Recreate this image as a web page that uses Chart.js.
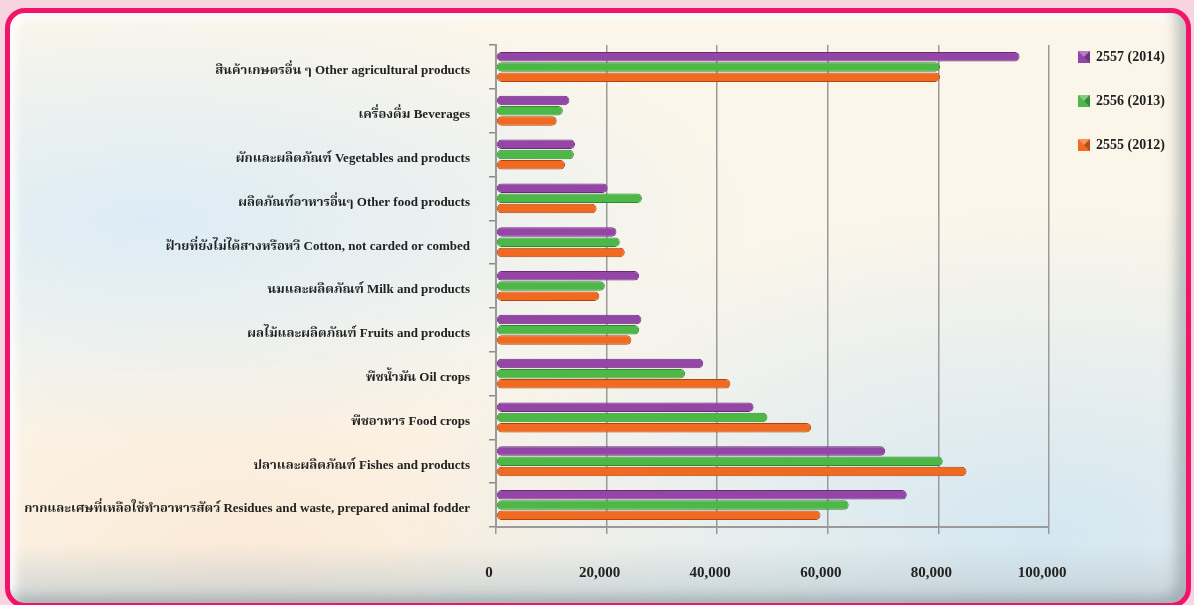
<!DOCTYPE html>
<html>
<head>
<meta charset="utf-8">
<script src="https://cdn.jsdelivr.net/npm/chart.js@4.4.1/dist/chart.umd.min.js"></script>
<style>
  html, body { margin: 0; padding: 0; }
  body { width: 1194px; height: 605px; background: #f8d3e0; position: relative; overflow: hidden; }
  .frame {
    position: absolute; left: 5px; top: 8px; width: 1186px; height: 600px;
    box-sizing: border-box; border: 5px solid #f2146b; border-radius: 20px;
    background:
      linear-gradient(to bottom, rgba(255,255,255,0) 90%, rgba(185,200,206,0.7) 100%),
      radial-gradient(ellipse at 12% 35%, rgba(218,235,246,0.95), rgba(218,235,246,0) 42%),
      radial-gradient(ellipse at 88% 88%, rgba(210,230,242,0.95), rgba(210,230,242,0) 45%),
      radial-gradient(ellipse at 20% 95%, rgba(250,232,212,0.9), rgba(250,232,212,0) 35%),
      #fcf6ea;
    box-shadow: inset -10px -6px 12px rgba(120,132,138,0.45), inset 6px 6px 10px rgba(255,255,255,0.9);
  }
  .chart-container { position: absolute; left: 0; top: 0; width: 1194px; height: 605px; }
</style>
</head>
<body>
<div class="frame"></div>
<div class="chart-container"><canvas id="graficoProdutos" width="1194" height="605"></canvas></div>
<script>
const categorias = [
  'สินค้าเกษตรอื่น ๆ Other agricultural products',
  'เครื่องดื่ม Beverages',
  'ผักและผลิตภัณฑ์ Vegetables and products',
  'ผลิตภัณฑ์อาหารอื่นๆ Other food products',
  'ฝ้ายที่ยังไม่ได้สางหรือหวี Cotton, not carded or combed',
  'นมและผลิตภัณฑ์ Milk and products',
  'ผลไม้และผลิตภัณฑ์ Fruits and products',
  'พืชน้ำมัน Oil crops',
  'พืชอาหาร Food crops',
  'ปลาและผลิตภัณฑ์ Fishes and products',
  'กากและเศษที่เหลือใช้ทำอาหารสัตว์ Residues and waste, prepared animal fodder'
];
const series = ['2557 (2014)', '2556 (2013)', '2555 (2012)'];
const valores2557 = [94700, 13300, 14300, 20200, 21800, 25900, 26300, 37500, 46600, 70400, 74300];
const valores2556 = [80300, 12100, 14100, 26400, 22400, 19700, 25900, 34200, 49100, 80800, 63800];
const valores2555 = [80300, 11000, 12500, 18200, 23300, 18700, 24500, 42400, 57000, 85100, 58700];
const escalaMax = 100000;
const escalaPasso = 20000;

const cores = ['#9446a6', '#4db848', '#f06a21'];
const bordas = ['#6b2a7a', '#2f8a2e', '#b0440c'];
const fonte = "'Liberation Serif', 'Noto Serif Thai', 'Noto Sans Thai', 'DejaVu Serif', serif";

// legend drawn by hand so it sits where the original one is
const legendaLateral = {
  id: 'legendaLateral',
  afterDraw(chart) {
    const c = chart.ctx;
    c.save();
    chart.data.datasets.forEach((ds, i) => {
      const x = 1078, y = 51 + i * 44;
      c.fillStyle = ds.backgroundColor;
      c.fillRect(x, y, 12, 12);
      c.fillStyle = 'rgba(255,255,255,0.3)';
      c.beginPath(); c.moveTo(x, y); c.lineTo(x + 12, y); c.lineTo(x + 6, y + 6); c.closePath(); c.fill();
      c.fillStyle = 'rgba(0,0,0,0.25)';
      c.beginPath(); c.moveTo(x + 12, y); c.lineTo(x + 12, y + 12); c.lineTo(x + 6, y + 6); c.closePath(); c.fill();
      c.fillStyle = '#222';
      c.font = 'bold 14px ' + fonte;
      c.textBaseline = 'middle';
      c.textAlign = 'left';
      c.fillText(ds.label, x + 18, y + 6);
    });
    c.restore();
  }
};

document.addEventListener('DOMContentLoaded', function() {
  const ctx = document.getElementById('graficoProdutos').getContext('2d');
  const grafico = new Chart(ctx, {
    type: 'bar',
    data: {
      labels: categorias,
      datasets: [valores2557, valores2556, valores2555].map((v, i) => ({
        label: series[i],
        data: v,
        backgroundColor: cores[i],
        borderColor: bordas[i],
        borderWidth: 1,
        borderRadius: 5,
        borderSkipped: false,
        categoryPercentage: 0.7,
        barPercentage: 0.93
      }))
    },
    options: {
      indexAxis: 'y',
      responsive: false,
      animation: false,
      layout: { padding: { top: 45, left: 10, right: 145, bottom: 0 } },
      plugins: {
        legend: { display: false },
        tooltip: { enabled: false }
      },
      scales: {
        x: {
          min: 0,
          max: escalaMax,
          afterFit(scale) { scale.height = 78; },
          ticks: { stepSize: escalaPasso, padding: 30, labelOffset: -7, color: '#222', font: { family: fonte, size: 15, weight: 'bold' } },
          grid: { color: '#9a9a9a', lineWidth: 1.5, tickLength: 7 },
          border: { color: '#9a9a9a', width: 2 }
        },
        y: {
          afterFit(scale) { scale.width = 486; },
          ticks: { padding: 19, labelOffset: 4, color: '#222', font: { family: fonte, size: 13, weight: 'bold' } },
          grid: { offset: true, drawOnChartArea: false, color: '#8a8a8a', lineWidth: 1.5, tickLength: 7 },
          border: { color: '#9a9a9a', width: 2 }
        }
      }
    },
    plugins: [legendaLateral]
  });
});
</script>
</body>
</html>
